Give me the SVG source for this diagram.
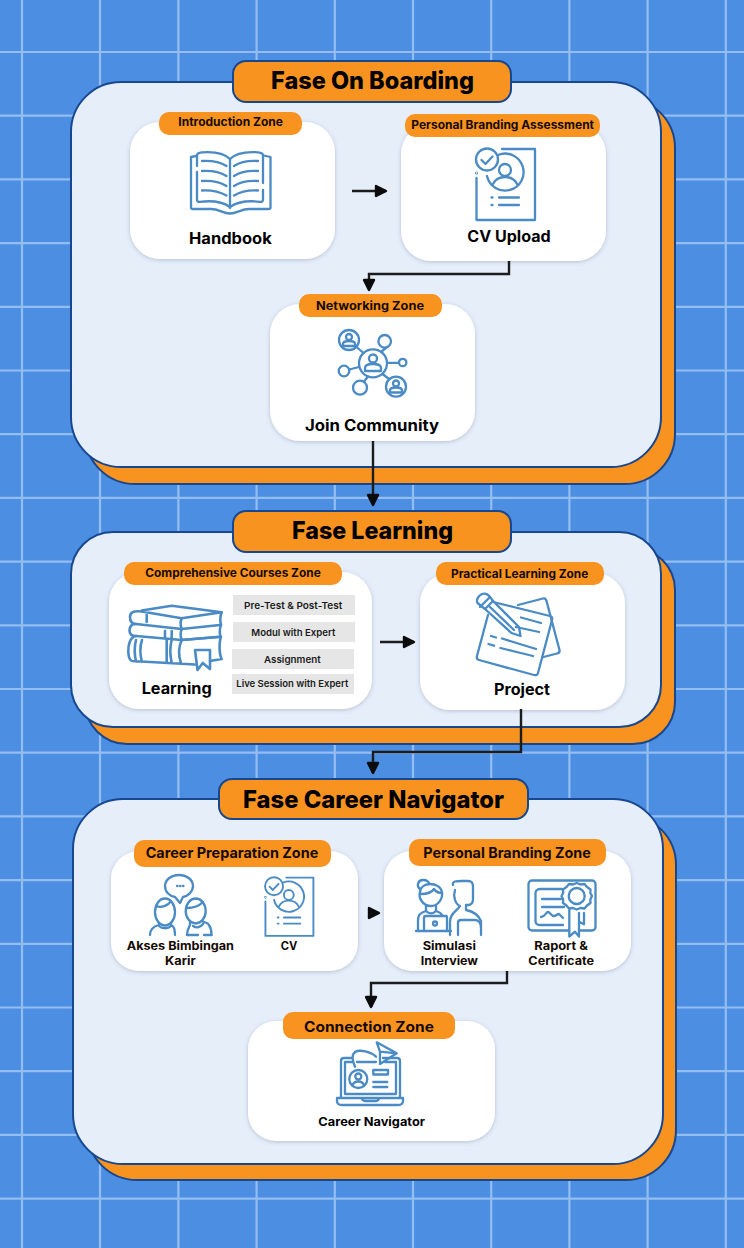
<svg xmlns="http://www.w3.org/2000/svg" xmlns:xlink="http://www.w3.org/1999/xlink" width="744" height="1248" viewBox="0 0 744 1248">
<style>
.grid{stroke:#94bdf0;stroke-width:2.2;fill:none}
.back{fill:#f9931f;stroke:#17478f;stroke-width:2}
.panel{fill:#e6eefa;stroke:#17478f;stroke-width:2}
.title{fill:#f9931f;stroke:#17478f;stroke-width:2}
.card{fill:#fff;filter:url(#sh)}
.tag{fill:#f9931f}
.row{fill:#e6e6e6}
text{font-family:"Inter","Liberation Sans",sans-serif;fill:#000;font-weight:700}
.t{font-size:24px;font-weight:800}
.z{font-size:11.5px;fill:#140a02}
.zb{font-size:14.5px;fill:#140a02}
.n{font-size:15.5px}
.r{font-size:9.5px;font-weight:600;fill:#1a1a1a}
.s{font-size:12px}
.ic{fill:none;stroke:#4a8bc5;stroke-width:2.3;stroke-linecap:round;stroke-linejoin:round}
.c{fill:none;stroke:#1c1c1c;stroke-width:2.4;stroke-linejoin:miter}
</style>
<defs>
<filter id="sh" x="-10%" y="-10%" width="120%" height="125%"><feDropShadow dx="0" dy="1" stdDeviation="2" flood-color="#5b6b85" flood-opacity=".35"/></filter>
<marker id="ah" markerUnits="userSpaceOnUse" markerWidth="18" markerHeight="18" refX="13" refY="8" orient="auto"><path d="M3 3 L13 8 L3 13Z" fill="#0c0c0c" stroke="#0c0c0c" stroke-width="2.4" stroke-linejoin="round"/></marker>
<symbol id="cv" overflow="visible">
<g class="ic">
<path d="M502 149H535V220H476.500V178"/><circle cx="476.500" cy="173" r=".4"/>
<circle cx="487" cy="159.500" r="11"/><path d="M481.500 160L485.500 164L492.500 156.500"/>
<path d="M498 155A18.500 18.500 0 1 1 487 176"/>
<circle cx="505" cy="170" r="6"/><path d="M493 184C496 178 501 177 505 177C509 177 514 178 517 184"/>
<path d="M499 197.500H519M499 205H519M491.500 197.500H492.500M491.500 205H492.500"/>
</g>
</symbol>
</defs>
<rect id="background" width="744" height="1248" fill="#4c8ee2"/>
<g id="grid" class="grid">
<path d="M22 0V1248M100 0V1248M178.400 0V1248M256.600 0V1248M334.800 0V1248M413 0V1248M491.200 0V1248M569.400 0V1248M647.600 0V1248M725.800 0V1248"/>
<path d="M0 52H744M0 115.700H744M0 179.400H744M0 243.100H744M0 306.800H744M0 370.500H744M0 434.200H744M0 497.900H744M0 561.600H744M0 625.300H744M0 689H744M0 752.700H744M0 816.400H744M0 880.100H744M0 943.800H744M0 1007.500H744M0 1071.200H744M0 1134.900H744M0 1198.600H744"/>
</g>

<g id="phase-onboarding">
<rect class="back" x="85" y="98" width="590" height="386" rx="50"/>
<rect class="panel" x="71" y="82" width="590" height="385" rx="50"/>
<rect class="title" x="233" y="61" width="278" height="41" rx="13"/>
<text class="t" x="271" y="89" textLength="203" lengthAdjust="spacingAndGlyphs">Fase On Boarding</text>
</g>
<g id="phase-learning">
<rect class="back" x="85" y="548" width="590" height="196" rx="42"/>
<rect class="panel" x="71" y="532" width="590" height="195" rx="42"/>
<rect class="title" x="233" y="511" width="278" height="41" rx="13"/>
<text class="t" x="292" y="539" textLength="161" lengthAdjust="spacingAndGlyphs">Fase Learning</text>
</g>
<g id="phase-career">
<rect class="back" x="87" y="815" width="589" height="365" rx="50"/>
<rect class="panel" x="73" y="799" width="590" height="365" rx="50"/>
<rect class="title" x="219" y="779" width="309" height="40" rx="13"/>
<text class="t" x="243" y="807.500" textLength="261" lengthAdjust="spacingAndGlyphs">Fase Career Navigator</text>
</g>

<g id="node-handbook">
<rect class="card" x="130" y="122" width="205" height="137" rx="30"/>
<rect class="tag" x="159" y="112" width="143" height="23" rx="10"/>
<text class="z" x="178.300" y="126" textLength="104.700" lengthAdjust="spacingAndGlyphs">Introduction Zone</text>
<g class="ic">
<path d="M197 166V155.500C197 153 199 152.500 202 152.300C213 151.500 224 153 230 159C236 153 247 151.500 258 152.300C261 152.500 263 153 263 155.500V183M263 190V199.500C263 201.500 262 202 260 201.800C249 200.500 237 202 230 207C223 202 211 200.500 200 201.800C198 202 197 201.500 197 199.500V172"/>
<path d="M196 156L191 157V208C191 208.800 191.500 209 192.500 209H211C219 209 223 213.500 230 213.500C237 213.500 241 209 249 209H269C270 209 270.500 208.800 270.500 208V157L263.500 155.500"/>
<path d="M230 159V208"/>
<path d="M202 161C210 160.500 220 162 226.500 166M202 171C210 170.500 220 172 226.500 176M202 181C210 180.500 220 182 226.500 186M202 190.500C210 190 220 192 226.500 195.500"/>
<path d="M258 161C250 160.500 240 162 234 166M258 171C250 170.500 240 172 234 176M258 181C250 180.500 240 182 234 186M258 190.500C250 190 240 192 234 195.500"/>
</g>
<text class="n" x="189" y="244" textLength="82.700" lengthAdjust="spacingAndGlyphs">Handbook</text>
</g>

<g id="node-cv-upload">
<rect class="card" x="401" y="124" width="205" height="137" rx="30"/>
<rect class="tag" x="405" y="114" width="195" height="23" rx="10"/>
<text class="z" x="411.300" y="129" textLength="182.700" lengthAdjust="spacingAndGlyphs">Personal Branding Assessment</text>
<use href="#cv" xlink:href="#cv"/>
<text class="n" x="467.300" y="242.200" textLength="83.400" lengthAdjust="spacingAndGlyphs">CV Upload</text>
</g>

<g id="node-community">
<rect class="card" x="270" y="304" width="205" height="137" rx="30"/>
<rect class="tag" x="299" y="294" width="143" height="23" rx="10"/>
<text class="z" x="316" y="310" textLength="108" lengthAdjust="spacingAndGlyphs">Networking Zone</text>
<g class="ic">
<circle cx="373" cy="363.300" r="14"/><circle cx="349" cy="340" r="10"/><circle cx="384.700" cy="341.300" r="6.300"/><circle cx="402.700" cy="362.500" r="3.700"/><circle cx="344" cy="371" r="5.300"/><circle cx="360" cy="387.700" r="7"/><circle cx="396" cy="386.700" r="10"/>
<path d="M356.500 347L363.500 353M387 347L381 352M387 362.800H399M349.300 369.500L359 367M364.500 381L368 376.500M382.500 374L389 379"/>
<circle cx="373" cy="358.500" r="4"/><path d="M365 371V368C365 365 369 364 373 364C377 364 381 365 381 368V371Z"/>
<circle cx="349" cy="337" r="3"/><path d="M343 346V344C343 342 346 341 349 341C352 341 355 342 355 344V346Z"/>
<circle cx="396" cy="383.500" r="3"/><path d="M390 392.500V390.500C390 388.500 393 387.500 396 387.500C399 387.500 402 388.500 402 390.500V392.500Z"/>
</g>
<text class="n" x="305" y="430.500" textLength="134" lengthAdjust="spacingAndGlyphs">Join Community</text>
</g>

<g id="node-learning">
<rect class="card" x="109" y="572" width="263" height="137" rx="30"/>
<rect class="tag" x="124" y="562" width="218" height="23" rx="10"/>
<text class="z" x="145.300" y="577" textLength="175.400" lengthAdjust="spacingAndGlyphs">Comprehensive Courses Zone</text>
<rect class="row" x="233" y="595" width="122" height="20"/>
<text class="r" x="244" y="609" textLength="98.300" lengthAdjust="spacingAndGlyphs">Pre-Test &amp; Post-Test</text>
<rect class="row" x="233" y="622" width="122" height="20"/>
<text class="r" x="251.300" y="636" textLength="84" lengthAdjust="spacingAndGlyphs">Modul with Expert</text>
<rect class="row" x="232" y="649" width="122" height="20"/>
<text class="r" x="264" y="663" textLength="56.700" lengthAdjust="spacingAndGlyphs">Assignment</text>
<rect class="row" x="232" y="674" width="122" height="20"/>
<text class="r" x="236.300" y="687" textLength="112" lengthAdjust="spacingAndGlyphs">Live Session with Expert</text>
<g class="ic" style="stroke-width:2.6">
<path d="M141.700 610.500L171.700 605.700L221.700 612.300L181.700 618.300L141.700 611.500C134 610.500 130 612 130 617C130 621 132 624 136 624L181.700 629L220 625"/>
<path d="M181.700 618.300C180.500 621 180.500 626 181.700 629M146.700 615V622M221.700 612.300C220 615 220 622 221 625"/>
<path d="M136 624C131 624 129.500 627 129.500 630.500C129.500 634 132 636 136 636L181.700 640L220 636.700M221 625C219.500 628 219.500 634 220.500 636.700M165 631V638M171.700 631V638.500M181.700 629C180.500 632 180.500 637 181.700 640"/>
<path d="M136 636C130 637 128 645 128.300 652C128.500 656 129 660 132 661L195 664.500M136 640C134.500 646 134.500 655 136 661.500M142 640C140 646 140 655 142 662M166.700 639V662.500M171.700 640C170 646 170 655 171.700 663M181.700 640C178.500 647 178.500 656 181 663.500M181.700 640L221 636.700M221 636.700C219 642 219 654 221.700 659L210 661"/>
<path d="M195 650H210V669L202.700 663L197.500 670Z"/>
</g>
<text class="n" x="141.700" y="693.700" textLength="70" lengthAdjust="spacingAndGlyphs">Learning</text>
</g>

<g id="node-project">
<rect class="card" x="420" y="573" width="205" height="137" rx="30"/>
<rect class="tag" x="436" y="562" width="168" height="23" rx="10"/>
<text class="z" x="451" y="578" textLength="137.300" lengthAdjust="spacingAndGlyphs">Practical Learning Zone</text>
<g class="ic">
<path d="M518 605L543 598.500C545 598 546 599 546.500 601L559.500 650C560 652 559 653 557 653.500L543.500 657"/>
<path d="M493 602L550 616C552 616.500 552.500 618 552 620L538 673C537.500 675 536 675.500 534 675L479 660C477 659.500 476.500 658 477 656L488 615"/>
<path d="M477.500 603C476 600 478 596 482 594C485 593 488 594 490 597L493 601L519 627L520.500 636L511.500 633L485 609Z" fill="#fff"/>
<path d="M480 607L490 597M485 609L493 601M490 607L514 630"/>
<path d="M521 617.500L541 623M516 627L539 632M491 636L496 637.500M488.500 644L494 645.700M502 638.500L536 649M500.500 648L533 656"/>
</g>
<text class="n" x="494" y="694.700" textLength="56" lengthAdjust="spacingAndGlyphs">Project</text>
</g>

<g id="node-career-prep">
<rect class="card" x="111" y="851" width="247" height="120" rx="28"/>
<rect class="tag" x="134" y="840" width="197" height="27" rx="10"/>
<text class="zb" x="145.700" y="858.300" textLength="172.600" lengthAdjust="spacingAndGlyphs">Career Preparation Zone</text>
<g class="ic">
<path d="M179 875C187 875 193 880 193 886C193 892 187 896.500 183 897L180 903L175 897C170 896.500 165 892 165 886C165 880 171 875 179 875Z"/>
<path d="M177 886H177.500M180 886H180.500M183 886H183.500"/>
<ellipse cx="165" cy="912" rx="10" ry="13.500"/>
<path d="M156 906C161 908 168 906 171 901M159 923V925C155 926 150 929 150 935M171 923V925C174 926 175 930 175 935M159 926C162 929 168 929 171 926"/>
<ellipse cx="195.700" cy="911" rx="10" ry="12.500"/>
<path d="M187 908C193 908 199 906 203 902M190 921V925C189 927 187 930 187 935M202 921C205 924 207 921 209 925C211 928 211.500 931 211.500 935M193 926C196 928 200 928 203 924"/>
<path d="M187 935H198M204 935H211.500"/>
</g>
<use href="#cv" xlink:href="#cv" transform="translate(-125.300 755.500) scale(.82)"/>
<text class="z" x="126.700" y="949.700" textLength="107.300" lengthAdjust="spacingAndGlyphs">Akses Bimbingan</text>
<text class="z" x="165" y="964.700" textLength="30.700" lengthAdjust="spacingAndGlyphs">Karir</text>
<text class="z" x="280.700" y="949.700" textLength="16.600" lengthAdjust="spacingAndGlyphs">CV</text>
</g>

<g id="node-branding">
<rect class="card" x="384" y="851" width="247" height="120" rx="28"/>
<rect class="tag" x="409" y="839" width="197" height="27" rx="10"/>
<text class="zb" x="423.300" y="857.700" textLength="167.400" lengthAdjust="spacingAndGlyphs">Personal Branding Zone</text>
<g class="ic">
<path d="M420 889C416 886 418 880 423 880C427 880 429 882 429 884M420 892C418 898 423 906 431 906C438 906 443 899 442 892C441 887 436 884 430 884C424 884 420 888 420 892Z"/>
<path d="M421 894C428 894 432 892 434 889C436 892 439 893 442 893M426 911V906M436 911V906"/>
<path d="M418 930V920C418 914 422 912 426 911C429 914 433 914 436 911C439 912 441 913 442 915"/>
<path d="M424 931V918C424 917 425 916 426 916H446C447 916 447 917 447 918V931"/><circle cx="435" cy="923.500" r="2"/>
<path d="M416 931H451"/>
<path d="M453 885C452 881 456 881 462 881H468C472 881 473 883 473 887V899C473 903 471 905 468 905H466V910C471 911 478 914 481 921V935M455 890C453 896 455 904 460 906C457 911 450 913 450 922V935M458 935V923C458 921 459 920 461 920H475C479 920 481 924 481 928"/>
</g>
<g class="ic">
<rect x="528.500" y="880.500" width="67" height="50" rx="3.500"/>
<path d="M562 889H540C537 889 535.500 891 535.500 893V921C535.500 924 537 925 540 925H563"/>
<path d="M542 899H561M542 907H564M541 917C545 917 546 912 548 912C550 912 551 916 554 916C556 916 557 914 559 914L563 918"/>
<path d="M569.300 910V936.500L575 931.700L579 936.500V913M579 921.700L584 924.300V913" fill="#fff"/>
<path d="M576.700 883L580.500 884.500L584.500 884L587 887L590.500 889.500L590.300 893L592 896L590.300 899.500L590.500 903L587 905.500L584.500 908.500L580.500 908L576.700 909.500L573 908L569 908.500L566.500 905.500L563 903L563.200 899.500L561.500 896L563.200 893L563 889.500L566.500 887L569 884L573 884.500Z" fill="#fff"/>
<circle cx="576.700" cy="896" r="8"/>
</g>
<text class="z" x="422.700" y="950" textLength="53.300" lengthAdjust="spacingAndGlyphs">Simulasi</text>
<text class="z" x="420.700" y="965" textLength="57.300" lengthAdjust="spacingAndGlyphs">Interview</text>
<text class="z" x="534.300" y="950" textLength="53.700" lengthAdjust="spacingAndGlyphs">Raport &amp;</text>
<text class="z" x="528.300" y="965" textLength="65.700" lengthAdjust="spacingAndGlyphs">Certificate</text>
</g>

<g id="node-connection">
<rect class="card" x="248" y="1021" width="247" height="120" rx="28"/>
<rect class="tag" x="283" y="1012" width="172" height="27" rx="10"/>
<text class="zb" x="304" y="1031.700" textLength="130" lengthAdjust="spacingAndGlyphs">Connection Zone</text>
<g class="ic">
<path d="M352 1058H344C342 1058 341 1059 341 1061V1097M383 1058H397C399 1058 400 1059 400 1061V1097"/>
<path d="M345 1094V1062H353M357 1062H376M385 1062H396V1094H345"/>
<path d="M337 1098H403V1101C403 1103.500 401 1105 398 1105H342C339 1105 337 1103.500 337 1101ZM362 1098C362 1100 364 1101 366 1101H375C377 1101 379 1100 379 1098"/>
<path d="M376.700 1042.300L396.700 1053.300L380 1064L380 1051.700ZM380 1051.700L396.700 1053.300M376 1056.700C371 1052 360 1049 355 1052C351 1055 353 1062 355 1066.700"/>
<circle cx="358.300" cy="1079" r="9"/><circle cx="358.300" cy="1076.500" r="3"/><path d="M352.500 1085C353.500 1082.500 356 1081.500 358.300 1081.500C360.600 1081.500 363 1082.500 364 1085"/>
<path d="M373.300 1070H388V1074.500H373.300ZM373.300 1082H387.300M373.300 1087H387.300"/>
</g>
<text class="s" x="318.300" y="1125.700" textLength="106.700" lengthAdjust="spacingAndGlyphs">Career Navigator</text>
</g>

<g id="connectors">
<path class="c" d="M352 191H386" marker-end="url(#ah)"/>
<path class="c" d="M509 261V274H369V290" marker-end="url(#ah)"/>
<path class="c" d="M373 441V505" marker-end="url(#ah)"/>
<path class="c" d="M380 642H414" marker-end="url(#ah)"/>
<path class="c" d="M521 709V752H373V773" marker-end="url(#ah)"/>
<path class="c" d="M368 913H379" marker-end="url(#ah)"/>
<path class="c" d="M507 971V983H371V1007" marker-end="url(#ah)"/>
</g>
</svg>
